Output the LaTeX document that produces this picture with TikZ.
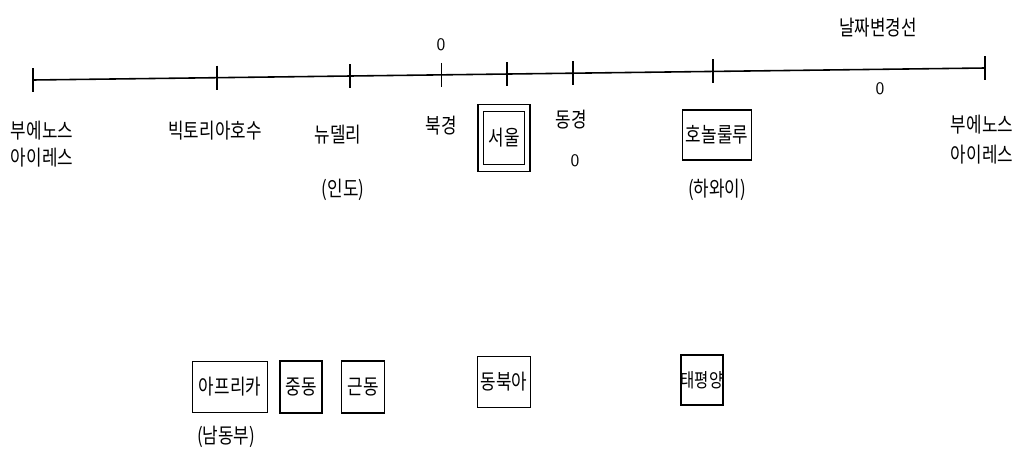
\documentclass[tikz,border=0pt]{standalone}
\usepackage{fontspec}
\newfontfamily\kr[FakeStretch=0.8]{Noto Sans CJK KR}
\usetikzlibrary{calc}
\begin{document}
\begin{tikzpicture}[x=0.02cm,y=-0.02cm,line width=0.9pt,
  lbl/.style={font=\kr\fontsize{12}{14}\selectfont,inner sep=0pt},
  num/.style={font=\sffamily\fontsize{10}{12}\selectfont,inner sep=0pt},
  frame/.style={draw,line width=1pt,inner sep=0pt,font=\kr\fontsize{12}{14}\selectfont},
  tick/.style={line width=0.9pt}]
\useasboundingbox (0,0) rectangle (1018,460);
% time line
\coordinate (L) at (33,80);
\coordinate (R) at (985,68);
\draw (L) -- (R)
  coordinate[pos=0.193] (t1)
  coordinate[pos=0.333] (t2)
  coordinate[pos=0.429] (t3)
  coordinate[pos=0.498] (t4)
  coordinate[pos=0.567] (t5)
  coordinate[pos=0.714] (t6);
\foreach \c in {L,t1,t2,t3,t4,t5,t6,R}
  \draw[tick] ($(\c)+(0,-12)$) -- ($(\c)+(0,12)$);
% numbers
\node[num] (z1) at (441,45) {0};
\node[num] (z2) at (575,161) {0};
\node[num] (z3) at (880,89) {0};
\node[lbl] (dl) at (878,28) {날짜변경선};
% labels
\node[lbl] (ba1) at (42,131) {부에노스};
\node[lbl] (ba2) at (42,158) {아이레스};
\node[lbl] (vic) at (215,131) {빅토리아호수};
\node[lbl] (nd) at (338,135) {뉴델리};
\node[lbl] (ind) at (343,190) {(인도)};
\node[lbl] (bj) at (441,126) {북경};
\node[frame,minimum width=1.04cm,minimum height=1.34cm] (seoulo) at (504,138) {};
\node[frame,minimum width=0.82cm,minimum height=1.06cm] (seoul) at (504,138) {서울};
\node[lbl] (tk) at (571,120) {동경};
\node[frame,minimum width=1.38cm,minimum height=1.0cm] (hnl) at (717,135) {호놀룰루};
\node[lbl] (hw) at (717,190) {(하와이)};
\node[lbl] (bb1) at (982,125) {부에노스};
\node[lbl] (bb2) at (982,155) {아이레스};
% regions
\node[frame,minimum width=1.5cm,minimum height=1.02cm] (af) at (230,387) {아프리카};
\node[lbl] (afs) at (226,437) {(남동부)};
\node[frame,minimum width=0.84cm,minimum height=1.04cm] (me) at (301,387) {중동};
\node[frame,minimum width=0.86cm,minimum height=1.04cm] (ne) at (363,387) {근동};
\node[frame,minimum width=1.06cm,minimum height=1.02cm] (nea) at (504,382) {동북아};
\node[frame,minimum width=0.8cm,minimum height=1.0cm,font=\kr\fontsize{11}{13}\selectfont] (pac) at (702,380) {태평양};
\end{tikzpicture}
\end{document}
